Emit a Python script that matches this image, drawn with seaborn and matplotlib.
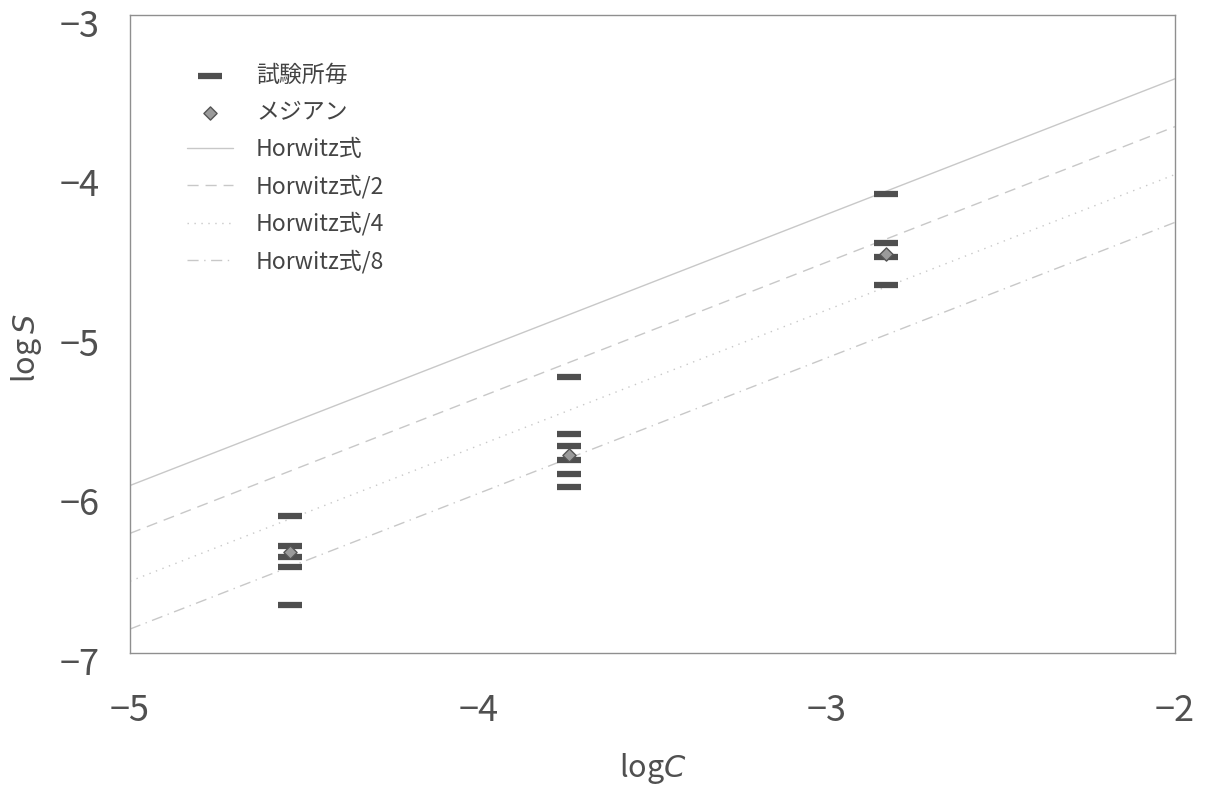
import numpy as np
import pandas as pd
import matplotlib
matplotlib.use("Agg")
import matplotlib.pyplot as plt
import matplotlib.transforms as mtransforms
import seaborn as sns

# lab results (log C, log S)
lab_x = [-4.54] * 5 + [-3.74] * 6 + [-2.83] * 4
lab_y = [-6.14, -6.33, -6.40, -6.46, -6.70,
         -5.27, -5.63, -5.70, -5.79, -5.88, -5.96,
         -4.12, -4.43, -4.52, -4.69]

# medians
med_x = [-4.54, -3.74, -2.83]
med_y = [-6.37, -5.76, -4.50]

# Horwitz lines, endpoints at log C = -5 and -2
line_x = [-5, -2]
horwitz = [-5.95, -3.40]
horwitz_2 = [-6.25, -3.70]
horwitz_4 = [-6.55, -4.00]
horwitz_8 = [-6.85, -4.30]

sns.set_style("white")
plt.rcParams['font.family'] = ['Noto Sans CJK JP', 'DejaVu Sans']
plt.rcParams['mathtext.fontset'] = 'dejavusans'

fig = plt.figure(figsize=(12.06, 7.89), dpi=100)
ax = fig.add_axes([0.1078, 0.1724, 0.8665, 0.8086])

line_color = "#c8c8c8"
styles = [("Horwitz式", horwitz, "-"),
          ("Horwitz式/2", horwitz_2, (0, (8, 5))),
          ("Horwitz式/4", horwitz_4, (0, (1, 4))),
          ("Horwitz式/8", horwitz_8, (0, (8, 4, 1, 4)))]

sns.scatterplot(x=lab_x, y=lab_y, marker="_", s=300, linewidth=4.5,
                color="#4f4f4f", label="試験所毎", ax=ax, zorder=3)
sns.scatterplot(x=med_x, y=med_y, marker="D", s=45, color="#9a9a9a",
                edgecolor="#555555", linewidth=1.0, label="メジアン", ax=ax, zorder=4)
for name, yy, ls in styles:
    df = pd.DataFrame({"x": line_x, "y": yy})
    sns.lineplot(data=df, x="x", y="y", color=line_color, linewidth=1.0,
                 linestyle=ls, label=name, ax=ax, zorder=2)

ax.set_xlim(-5, -2)
ax.set_ylim(-7, -3)
ax.set_xticks([-5, -4, -3, -2])
ax.set_yticks([-7, -6, -5, -4, -3])
ax.set_xticklabels(["−5", "−4", "−3", "−2"])
ax.set_yticklabels(["−7", "−6", "−5", "−4", "−3"])
ax.tick_params(axis="both", length=0, labelsize=26, labelcolor="#505050")
ax.tick_params(axis="x", pad=29)
ax.tick_params(axis="y", pad=22)
# y labels sit a little below their ticks in the original
shift = mtransforms.ScaledTranslation(0, -8 / 100, fig.dpi_scale_trans)
for lab in ax.get_yticklabels():
    lab.set_transform(lab.get_transform() + shift)
for sp in ax.spines.values():
    sp.set_color("#8f8f8f")
    sp.set_linewidth(1.0)

ax.set_xlabel("log$\\mathit{C}$", fontsize=22, color="#505050", labelpad=16)
ax.set_ylabel("log$\\,\\mathit{S}$", fontsize=22, color="#505050")
ax.yaxis.set_label_coords(-0.082, 0.478)

leg = ax.legend(loc="upper left", frameon=False, fontsize=16.5,
                bbox_to_anchor=(0.035, 0.955), handlelength=2.0,
                labelspacing=0.6, handletextpad=1.0)
for t in leg.get_texts():
    t.set_color("#444444")

fig.savefig("out.png", dpi=100)
